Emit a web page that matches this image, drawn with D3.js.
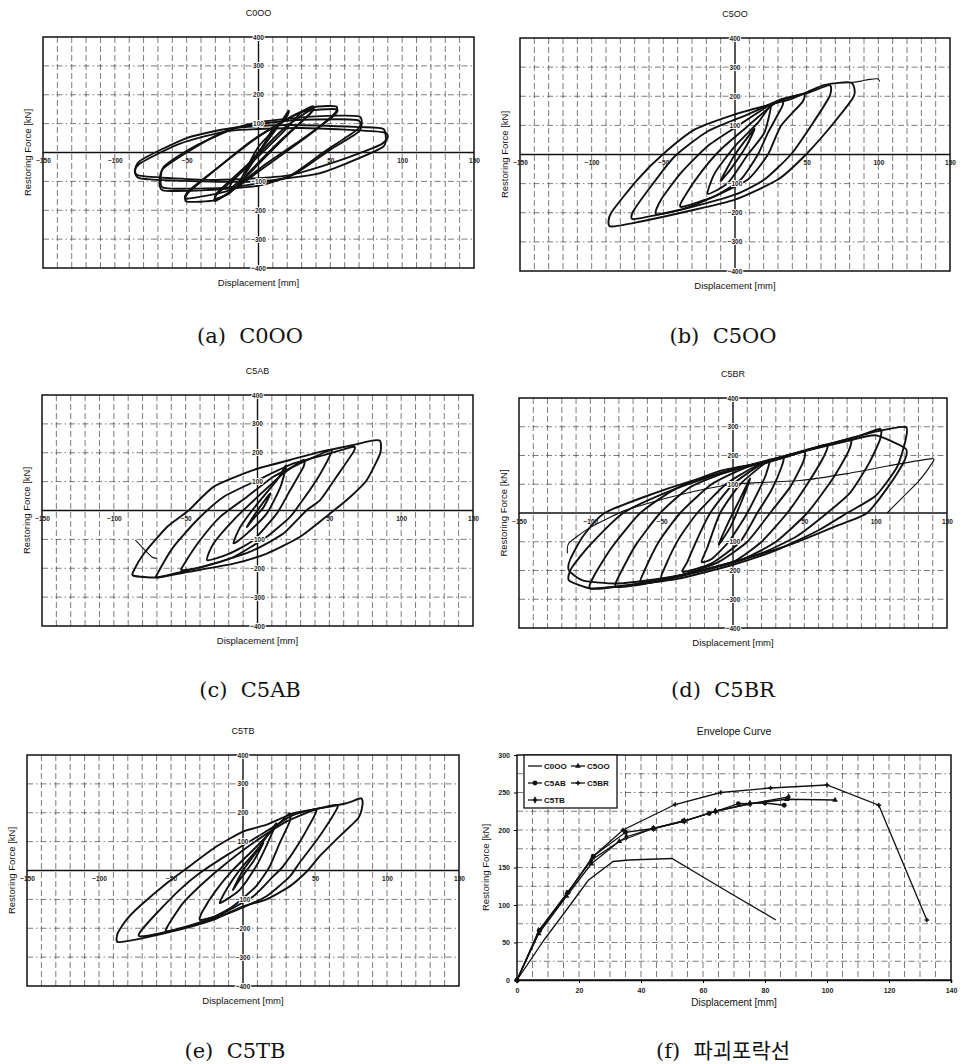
<!DOCTYPE html>
<html><head><meta charset="utf-8">
<script src="https://cdn.jsdelivr.net/npm/d3@7"></script>
<style>body{margin:0;background:#fff}svg{display:block}</style>
</head><body>
<svg id="c" width="961" height="1064"></svg>
<script>
// ---------------- DATA ----------------
const panelTitles = ["C0OO", "C5OO", "C5AB", "C5BR", "C5TB", "Envelope Curve"];
const captions = ["(a)  C0OO", "(b)  C5OO", "(c)  C5AB", "(d)  C5BR", "(e)  C5TB", "(f)  파괴포락선"];
const xTicksHyst = [-150, -100, -50, 50, 100, 150];
const yTicksHyst = [400, 300, 200, 100, -100, -200, -300, -400];
const xTicksEnv = [0, 20, 40, 60, 80, 100, 120, 140];
const yTicksEnv = [0, 50, 100, 150, 200, 250, 300];

// hysteresis loops, [displacement mm, force kN]
const loopsC0OO = [
  [[-10,-80],[-7,-50],[4,30],[10,85],[7,55],[-3,-25]],
  [[-20,-125],[-18,-100],[0,0],[15,100],[21,145],[19,120],[0,20],[-12,-90]],
  [[-30,-168],[-29,-145],[-10,-60],[15,60],[30,140],[38,160],[37,140],[20,60],[0,-40],[-18,-130]],
  [[-30,-160],[-28,-135],[-5,-30],[18,85],[37,150],[35,130],[15,40],[-5,-60],[-20,-140]],
  [[-50,-170],[-49,-140],[-30,-60],[-5,40],[25,130],[40,158],[54,160],[53,135],[35,60],[10,-30],[-15,-120],[-30,-165]],
  [[-50,-160],[-48,-130],[-25,-40],[0,55],[30,140],[54,150],[52,125],[30,45],[5,-40],[-20,-130]],
  [[-67,-130],[-67,-60],[-50,0],[-25,70],[0,105],[40,125],[70,125],[70,73],[50,10],[25,-75],[0,-115],[-35,-130]],
  [[-67,-120],[-66,-50],[-45,20],[-15,85],[20,110],[55,115],[70,110],[69,80],[45,0],[20,-85],[-15,-118],[-45,-125]],
  [[-83,-89],[-83,-31],[-50,50],[-18,85],[20,95],[70,88],[87,81],[87,21],[60,-40],[40,-75],[0,-100],[-40,-100]],
  [[-83,-80],[-83,-40],[-55,30],[-20,75],[30,85],[87,70],[86,30],[55,-30],[20,-80],[-30,-95]]
];
const loopsC5OO = [
  [[-10,-90],[0,0],[13.5,88],[8,30],[-3,-50]],
  [[-19,-135],[-14,-63],[0,29],[16,109],[25,168],[20.5,75],[9,0],[-5,-98]],
  [[-37.7,-180],[-35,-143],[-24,-63],[-10,17],[9,98],[25,166],[33,190],[33,166],[23,75],[16,0],[4,-86],[-14,-143]],
  [[-55,-205],[-51.6,-155],[-37.7,-63],[-19,29],[0,92],[23,166],[35,190],[48,208],[47,180],[32,98],[23,0],[9,-86],[-14,-143],[-35,-185]],
  [[-71.4,-222],[-71,-195],[-58.6,-109],[-42,-6],[-19,80],[9,138],[32,189],[50,210],[66,238],[66,200],[53,98],[39,0],[20.5,-86],[0,-138],[-33,-184],[-55,-208]],
  [[-87,-247],[-86.5,-201],[-68,-86],[-50.5,0],[-28,86],[0,138],[25,172],[40,192],[62,238],[81,247],[83,201],[69,109],[49.5,0],[30,-86],[0,-155],[-33,-195],[-65.6,-230]]
];
const tailC5OO = [[81,247],[88,252],[94,258],[99.5,260],[101,250]];
const loopsC5AB = [
  [[-7.4,-57],[0,0],[9,59],[4,10],[-3,-30]],
  [[-16.7,-114],[-12,-57],[0,24],[13.5,105],[20,157],[16,82],[6.5,-10],[-7.4,-80]],
  [[-35,-172],[-30.6,-114],[-16.7,-33],[0,47],[18,128],[32,175],[32,151],[22.7,70],[13.5,-10],[-3,-103],[-20,-150]],
  [[-52.7,-207],[-51,-185],[-40,-103],[-26,-22],[-7.4,47],[11,117],[29.7,163],[50.6,209],[50.6,192],[41,105],[29.7,24],[22.7,-22],[6.5,-91],[-16.7,-161],[-38,-195]],
  [[-70,-232],[-69,-213],[-58.5,-126],[-42,-33],[-23.7,47],[0,105],[25,163],[50.6,198],[66.8,221],[66.8,203],[55,117],[43.6,36],[34,0],[18,-80],[-3,-138],[-30.6,-184],[-55,-215]],
  [[-86.3,-226],[-86,-207],[-79,-149],[-63,-57],[-48,0],[-30.6,82],[-3,140],[22.7,175],[43.6,203],[66.8,227],[79.6,242],[85.4,241],[85.4,198],[76,105],[64.5,47],[50.6,-10],[29.7,-91],[6.5,-149],[-16.7,-184],[-49,-213],[-70,-232]]
];
const tailC5AB = [[-85,-103],[-79.4,-132],[-73.5,-161],[-70,-166]];
const loopsC5BR = [
  [[-10,-110],[-3,-30],[5,50],[12,120],[6,40],[-2,-50]],
  [[-22,-170],[-18,-120],[-9,0],[5,100],[22,172],[26,185],[22,120],[10,0],[-3,-100],[-15,-160]],
  [[-35,-205],[-32,-170],[-25,-90],[-16,0],[0,100],[20,170],[35,195],[34,160],[27,80],[17,0],[5,-100],[-15,-175]],
  [[-50,-228],[-47,-180],[-38,-90],[-25,0],[-5,100],[15,160],[35,192],[50,213],[49,175],[40,90],[26,0],[10,-100],[-10,-170],[-32,-210]],
  [[-65,-245],[-62,-200],[-52,-100],[-37,0],[-15,100],[10,160],[35,192],[65,238],[64,200],[52,100],[38,0],[20,-100],[0,-170],[-30,-210],[-50,-235]],
  [[-82,-257],[-79,-210],[-68,-110],[-51,0],[-30,90],[0,150],[30,188],[60,228],[82,256],[81,215],[70,120],[52,0],[30,-100],[5,-165],[-30,-212],[-60,-245]],
  [[-100,-263],[-97,-215],[-85,-120],[-65,0],[-40,85],[-10,145],[20,175],[55,225],[85,262],[103,292],[103,255],[95,170],[82,70],[66,0],[45,-80],[20,-140],[-10,-185],[-45,-225],[-75,-252]],
  [[-115,-234],[-113,-190],[-100,-110],[-77,0],[-50,65],[-20,120],[20,175],[60,230],[100,283],[121,299],[121,255],[115,160],[100,60],[80,0],[60,-60],[30,-130],[0,-180],[-40,-230],[-80,-255],[-100,-262]],
  [[-115,-199],[-114,-160],[-105,-80],[-90,0],[-60,60],[-30,110],[10,165],[50,215],[80,250],[100,270],[121,224],[120,180],[110,100],[94,0],[70,-50],[40,-110],[0,-170],[-40,-220],[-80,-245],[-105,-235]]
];
const tailC5BR = [[-116,-140],[-115,-105],[-100,-50],[-75,10],[-40,60],[0,100],[47,113],[80,137],[110,165],[139.5,189],[139,170],[130,110],[118,50],[108,0]];
const loopsC5TB = [
  [[-7,-67],[0,0],[14,95],[7,30],[-2,-30]],
  [[-16,-113],[-11.6,-67],[-2.3,2],[11.6,83],[23,164],[16,83],[9,14],[-2.3,-67]],
  [[-30,-171],[-28,-140],[-18.5,-67],[-7,2],[7,71],[23,152],[32.4,198],[32.4,169],[25.5,95],[18.5,14],[9,-55],[-7,-124],[-20,-160]],
  [[-53,-211],[-52,-190],[-41.7,-113],[-27.8,-44],[-11.6,25],[7,95],[30,169],[49.8,210],[49.8,192],[39,95],[27.8,14],[20.8,-21],[7,-90],[-18.5,-159],[-38,-195]],
  [[-71.8,-228],[-71,-210],[-60,-148],[-44,-67],[-30,-9],[-9,60],[14,129],[34.7,192],[50,212],[64.8,227],[64.8,210],[53,118],[39,25],[32.4,-21],[16,-90],[-7,-142],[-39,-194],[-58,-218]],
  [[-86.8,-248],[-87,-217],[-81,-171],[-71.8,-124],[-53,-44],[-39,8],[-18.5,83],[0,135],[16,158],[34.7,198],[53,215],[71.8,233],[82,250],[83,227],[80,181],[67,118],[53,48],[45,0],[32.4,-55],[16,-101],[0,-124],[-20.8,-171],[-44,-205],[-69.4,-234]]
];

// envelope curves, [displacement mm, force kN]
const envC0OO = [[0,0],[9,55],[15,88],[23,133],[31,158],[36,160],[50,162],[65,125],[83.5,80]];
const envC5OO = [[0,0],[7,62],[16,112],[24,155],[33,185],[44,202],[54,212],[64,225],[75,235],[87,241],[102.6,240]];
const envC5AB = [[0,0],[7.3,66],[16.5,117],[24.6,165],[35,197],[44,202],[53.6,212],[62,222],[71.4,235],[80,236],[86.2,233]];
const envC5BR = [[0,0],[7.3,66],[16.5,117],[24.6,165],[34.2,200],[51,234],[65.7,250],[81.8,256],[100,260],[116.7,233],[132.2,80]];
const envC5TB = [[0,0],[7,66],[16,115],[24,160],[35.3,191],[44,202],[54,212],[64,225],[75.2,235],[87.6,244]];
const envNames = ["C0OO", "C5OO", "C5AB", "C5BR", "C5TB"];

// ---------------- DRAW ----------------
const svg = d3.select("#c");
const ink = "#111";
const sans = "Liberation Sans, Arial, sans-serif";

function caption(text, cx, baseY) {
  svg.append("text").attr("x", cx).attr("y", baseY).attr("text-anchor", "middle")
    .style("white-space", "pre")
    .attr("font-family", "DejaVu Serif, Noto Sans CJK KR, serif")
    .attr("font-size", 21).attr("fill", ink).text(text);
}

function hystPanel(box, title, loops, tails, capText, capX, capY) {
  const x = d3.scaleLinear().domain([-150, 150]).range([box.x, box.x + box.w]);
  const y = d3.scaleLinear().domain([-400, 400]).range([box.y + box.h, box.y]);
  const g = svg.append("g");
  // grid
  g.selectAll(null).data(d3.range(-140, 150, 10).filter(v => v !== 0)).join("line")
    .attr("x1", d => x(d)).attr("x2", d => x(d)).attr("y1", box.y).attr("y2", box.y + box.h)
    .attr("stroke", "#444").attr("stroke-width", 0.7).attr("stroke-dasharray", "6,3");
  g.selectAll(null).data(d3.range(-300, 400, 100).filter(v => v !== 0)).join("line")
    .attr("x1", box.x).attr("x2", box.x + box.w).attr("y1", d => y(d)).attr("y2", d => y(d))
    .attr("stroke", "#444").attr("stroke-width", 0.7).attr("stroke-dasharray", "6,3,1.5,3");
  // loops
  const closed = d3.line().x(d => x(d[0])).y(d => y(d[1])).curve(d3.curveCardinalClosed.tension(0.4));
  const open = d3.line().x(d => x(d[0])).y(d => y(d[1])).curve(d3.curveCardinal.tension(0.4));
  g.selectAll(null).data(loops).join("path").attr("d", closed)
    .attr("fill", "none").attr("stroke", ink).attr("stroke-width", 1.9).attr("stroke-linejoin", "round");
  g.selectAll(null).data(tails).join("path").attr("d", open)
    .attr("fill", "none").attr("stroke", ink).attr("stroke-width", 1.1);
  // zero axes
  g.append("line").attr("x1", x(0)).attr("x2", x(0)).attr("y1", box.y).attr("y2", box.y + box.h)
    .attr("stroke", ink).attr("stroke-width", 1.4);
  g.append("line").attr("x1", box.x).attr("x2", box.x + box.w).attr("y1", y(0)).attr("y2", y(0))
    .attr("stroke", ink).attr("stroke-width", 1.4);
  // frame
  g.append("rect").attr("x", box.x).attr("y", box.y).attr("width", box.w).attr("height", box.h)
    .attr("fill", "none").attr("stroke", ink).attr("stroke-width", 1.5);
  // axes labels through d3 axes
  const ax = g.append("g").attr("transform", `translate(0,${y(0)})`)
    .call(d3.axisBottom(x).tickValues(xTicksHyst).tickSize(0).tickPadding(6).tickFormat(d3.format("d")));
  ax.select(".domain").remove();
  ax.selectAll("text").attr("font-family", sans).attr("font-size", 6.5).attr("font-weight", "bold").attr("fill", "#222");
  const ay = g.append("g").attr("transform", `translate(${x(0)},0)`)
    .call(d3.axisRight(y).tickValues(yTicksHyst).tickSize(0).tickPadding(0).tickFormat(d3.format("d")));
  ay.select(".domain").remove();
  ay.selectAll("text").attr("x", 0).attr("text-anchor", "middle")
    .attr("font-family", sans).attr("font-size", 6.5).attr("font-weight", "bold").attr("fill", "#222")
    .attr("stroke", "#fff").attr("stroke-width", 2).attr("paint-order", "stroke");
  // title and axis names
  g.append("text").attr("x", box.x + box.w / 2).attr("y", box.y - 21).attr("text-anchor", "middle")
    .attr("font-family", sans).attr("font-size", 9).attr("fill", ink).text(title);
  g.append("text").attr("x", box.x + box.w / 2).attr("y", box.y + box.h + 18).attr("text-anchor", "middle")
    .attr("font-family", sans).attr("font-size", 9.5).attr("fill", ink).text("Displacement [mm]");
  g.append("text").attr("transform", `translate(${box.x - 12},${box.y + box.h / 2}) rotate(-90)`)
    .attr("text-anchor", "middle").attr("font-family", sans).attr("font-size", 9.5).attr("fill", ink)
    .text("Restoring Force [kN]");
  caption(capText, capX, capY);
}

hystPanel({x: 43, y: 37, w: 431, h: 231}, panelTitles[0], loopsC0OO, [], captions[0], 250, 343);
hystPanel({x: 520, y: 38, w: 430, h: 233}, panelTitles[1], loopsC5OO, [tailC5OO], captions[1], 723, 343);
hystPanel({x: 42, y: 395, w: 431, h: 231}, panelTitles[2], loopsC5AB, [tailC5AB], captions[2], 250, 697);
hystPanel({x: 519, y: 398, w: 428, h: 230}, panelTitles[3], loopsC5BR, [tailC5BR], captions[3], 723, 697);
hystPanel({x: 27, y: 755, w: 432, h: 231}, panelTitles[4], loopsC5TB, [], captions[4], 235, 1058);

// ---------- envelope panel ----------
(function () {
  const box = {x: 517, y: 755, w: 434, h: 225};
  const x = d3.scaleLinear().domain([0, 140]).range([box.x, box.x + box.w]);
  const y = d3.scaleLinear().domain([0, 300]).range([box.y + box.h, box.y]);
  const g = svg.append("g");
  g.selectAll(null).data(d3.range(5, 140, 5)).join("line")
    .attr("x1", d => x(d)).attr("x2", d => x(d)).attr("y1", box.y).attr("y2", box.y + box.h)
    .attr("stroke", "#444").attr("stroke-width", 0.7).attr("stroke-dasharray", "6,3");
  g.selectAll(null).data(d3.range(25, 300, 25)).join("line")
    .attr("x1", box.x).attr("x2", box.x + box.w).attr("y1", d => y(d)).attr("y2", d => y(d))
    .attr("stroke", "#444").attr("stroke-width", 0.7).attr("stroke-dasharray", "6,3,1.5,3");
  g.append("rect").attr("x", box.x).attr("y", box.y).attr("width", box.w).attr("height", box.h)
    .attr("fill", "none").attr("stroke", ink).attr("stroke-width", 1.5);

  const ax = g.append("g").attr("transform", `translate(0,${box.y + box.h})`)
    .call(d3.axisBottom(x).tickValues(xTicksEnv).tickSize(3).tickPadding(5));
  ax.select(".domain").attr("stroke", ink).attr("stroke-width", 1.5);
  ax.selectAll("text").attr("font-family", sans).attr("font-size", 7).attr("font-weight", "bold").attr("fill", "#222");
  const ay = g.append("g").attr("transform", `translate(${box.x},0)`)
    .call(d3.axisLeft(y).tickValues(yTicksEnv).tickSize(3).tickPadding(4));
  ay.select(".domain").remove();
  ay.selectAll("text").attr("font-family", sans).attr("font-size", 7).attr("font-weight", "bold").attr("fill", "#222");

  const symbols = [null, d3.symbolTriangle, d3.symbolCircle, d3.symbolCross, d3.symbolDiamond];
  const sizes = [0, 14, 18, 12, 16];
  const series = [envC0OO, envC5OO, envC5AB, envC5BR, envC5TB];
  const line = d3.line().x(d => x(d[0])).y(d => y(d[1]));
  series.forEach((s, i) => {
    g.append("path").datum(s).attr("d", line).attr("fill", "none").attr("stroke", ink).attr("stroke-width", 1.3);
    if (symbols[i]) {
      g.selectAll(null).data(s).join("path")
        .attr("transform", d => `translate(${x(d[0])},${y(d[1])})`)
        .attr("d", d3.symbol().type(symbols[i]).size(sizes[i])).attr("fill", ink);
    }
  });

  // legend
  const lg = g.append("g");
  lg.append("rect").attr("x", 524).attr("y", 755).attr("width", 93).attr("height", 53)
    .attr("fill", "#fff").attr("stroke", ink).attr("stroke-width", 1.3);
  const pos = [[528, 766], [571, 766], [528, 783], [571, 783], [528, 800]];
  envNames.forEach((n, i) => {
    const [lx, ly] = pos[i];
    lg.append("line").attr("x1", lx).attr("x2", lx + 14).attr("y1", ly).attr("y2", ly)
      .attr("stroke", ink).attr("stroke-width", 1.3);
    if (symbols[i]) lg.append("path").attr("transform", `translate(${lx + 7},${ly})`)
      .attr("d", d3.symbol().type(symbols[i]).size(sizes[i])).attr("fill", ink);
    lg.append("text").attr("x", lx + 16).attr("y", ly + 3).attr("font-family", sans)
      .attr("font-size", 8).attr("font-weight", "bold").attr("fill", ink).text(n);
  });

  g.append("text").attr("x", box.x + box.w / 2).attr("y", 735).attr("text-anchor", "middle")
    .attr("font-family", sans).attr("font-size", 10.5).attr("fill", ink).text(panelTitles[5]);
  g.append("text").attr("x", box.x + box.w / 2).attr("y", 1006).attr("text-anchor", "middle")
    .attr("font-family", sans).attr("font-size", 10).attr("fill", ink).text("Displacement [mm]");
  g.append("text").attr("transform", `translate(${489},${box.y + box.h / 2}) rotate(-90)`)
    .attr("text-anchor", "middle").attr("font-family", sans).attr("font-size", 9.5).attr("fill", ink)
    .text("Restoring Force [kN]");
  caption(captions[5], 723, 1058);
})();
</script>
</body></html>
